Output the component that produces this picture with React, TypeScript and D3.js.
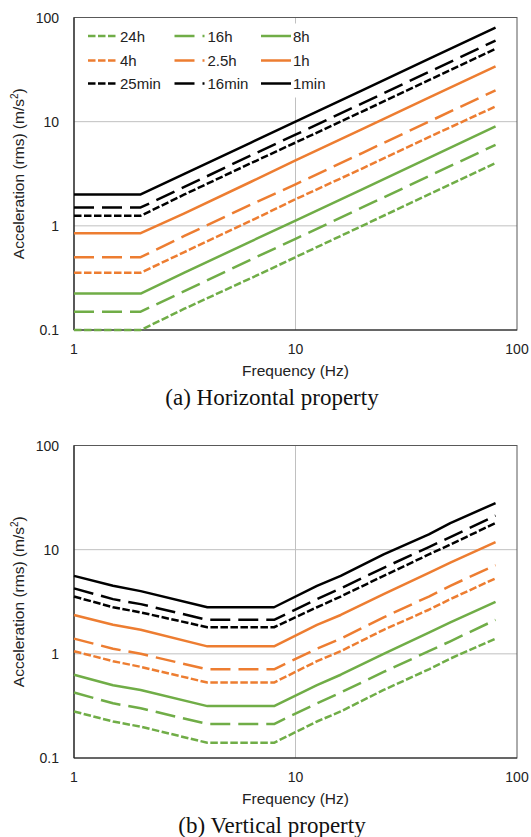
import React, { useEffect, useRef } from "react";
import * as d3 from "d3";

// series labels and styles (3 groups x 3 dash types)
const seriesNames = ["24h", "16h", "8h", "4h", "2.5h", "1h", "25min", "16min", "1min"];
const seriesColors = ["#70ad47", "#70ad47", "#70ad47", "#ed7d31", "#ed7d31", "#ed7d31", "#000000", "#000000", "#000000"];
const seriesDash = ["short", "long", "solid", "short", "long", "solid", "short", "long", "solid"];

// (a) horizontal
const hFreq = [1, 2, 3.15, 6.3, 10, 20, 40, 80];
const h24h = [0.1, 0.1, 0.16, 0.315, 0.5, 1.0, 2.0, 4.0];
const h16h = [0.15, 0.15, 0.236, 0.475, 0.75, 1.5, 3.0, 6.0];
const h8h = [0.224, 0.224, 0.355, 0.71, 1.12, 2.24, 4.5, 9.0];
const h4h = [0.355, 0.355, 0.56, 1.12, 1.8, 3.55, 7.1, 14.0];
const h2_5h = [0.5, 0.5, 0.8, 1.6, 2.5, 5.0, 10.0, 20.0];
const h1h = [0.85, 0.85, 1.32, 2.65, 4.25, 8.5, 17.0, 34.0];
const h25min = [1.25, 1.25, 2.0, 4.0, 6.3, 12.5, 25.0, 50.0];
const h16min = [1.5, 1.5, 2.36, 4.75, 7.5, 15.0, 30.0, 60.0];
const h1min = [2.0, 2.0, 3.15, 6.3, 10.0, 20.0, 40.0, 80.0];

// (b) vertical
const vFreq = [1, 1.5, 2, 4, 8, 12.5, 16, 25, 40, 50, 80];
const v24h = [0.28, 0.224, 0.2, 0.14, 0.14, 0.224, 0.28, 0.45, 0.71, 0.9, 1.4];
const v16h = [0.425, 0.335, 0.3, 0.212, 0.212, 0.335, 0.425, 0.67, 1.06, 1.32, 2.12];
const v8h = [0.63, 0.5, 0.45, 0.315, 0.315, 0.5, 0.63, 1.0, 1.6, 2.0, 3.15];
const v4h = [1.06, 0.85, 0.75, 0.53, 0.53, 0.85, 1.06, 1.7, 2.65, 3.35, 5.3];
const v2_5h = [1.4, 1.12, 1.0, 0.71, 0.71, 1.12, 1.4, 2.24, 3.55, 4.5, 7.1];
const v1h = [2.36, 1.9, 1.7, 1.18, 1.18, 1.9, 2.36, 3.75, 6.0, 7.5, 11.8];
const v25min = [3.55, 2.8, 2.5, 1.8, 1.8, 2.8, 3.55, 5.6, 9.0, 11.2, 18.0];
const v16min = [4.25, 3.35, 3.0, 2.12, 2.12, 3.35, 4.25, 6.7, 10.6, 13.2, 21.2];
const v1min = [5.6, 4.5, 4.0, 2.8, 2.8, 4.5, 5.6, 9.0, 14.0, 18.0, 28.0];

const hSeries = [h24h, h16h, h8h, h4h, h2_5h, h1h, h25min, h16min, h1min];
const vSeries = [v24h, v16h, v8h, v4h, v2_5h, v1h, v25min, v16min, v1min];

const xTicks = [1, 10, 100];
const yTicks = [0.1, 1, 10, 100];

const W = 531;
const H = 837;
const dashArray = { short: "7.5 2.5", long: "20 8", solid: null };
const font = "Liberation Sans, Arial, sans-serif";

const App = () => {
  const svgRef = useRef(null);

  useEffect(() => {
    const svg = d3.select(svgRef.current);
    svg.selectAll("*").remove();
    svg.append("rect").attr("width", W).attr("height", H).attr("fill", "#fff");

    const drawPanel = (top, freqs, series, caption, legend) => {
      const left = 74;
      const right = 517;
      const bottom = top + 312.5;
      const g = svg.append("g");

      const x = d3.scaleLog().domain([1, 100]).range([left, right]);
      const y = d3.scaleLog().domain([0.1, 100]).range([bottom, top]);

      // gridlines
      g.selectAll(".gy")
        .data([1, 10])
        .join("line")
        .attr("x1", left)
        .attr("x2", right)
        .attr("y1", (d) => y(d))
        .attr("y2", (d) => y(d))
        .attr("stroke", "#c0c0c0")
        .attr("stroke-width", 1);
      g.append("line")
        .attr("x1", x(10))
        .attr("x2", x(10))
        .attr("y1", top)
        .attr("y2", bottom)
        .attr("stroke", "#c0c0c0")
        .attr("stroke-width", 1);

      // legend background hides the grid
      if (legend) {
        g.append("rect").attr("x", 80).attr("y", top + 6).attr("width", 255).attr("height", 74).attr("fill", "#fff");
      }

      // frame
      g.append("rect")
        .attr("x", left)
        .attr("y", top)
        .attr("width", right - left)
        .attr("height", bottom - top)
        .attr("fill", "none")
        .attr("stroke", "#595959")
        .attr("stroke-width", 1);
      g.append("line").attr("x1", left).attr("x2", left).attr("y1", top).attr("y2", bottom).attr("stroke", "#222").attr("stroke-width", 1.2);
      g.append("line").attr("x1", left).attr("x2", right).attr("y1", bottom).attr("y2", bottom).attr("stroke", "#222").attr("stroke-width", 1.2);

      // lines
      const line = d3
        .line()
        .x((d) => x(d[0]))
        .y((d) => y(d[1]));
      series.forEach((vals, i) => {
        g.append("path")
          .datum(freqs.map((f, j) => [f, vals[j]]))
          .attr("d", line)
          .attr("fill", "none")
          .attr("stroke", seriesColors[i])
          .attr("stroke-width", 2.5)
          .attr("stroke-dasharray", dashArray[seriesDash[i]])
          .attr("stroke-linejoin", "round");
      });

      // tick labels
      g.selectAll(".xt")
        .data(xTicks)
        .join("text")
        .attr("x", (d) => x(d))
        .attr("y", bottom + 24)
        .attr("text-anchor", "middle")
        .attr("font-family", font)
        .attr("font-size", 14)
        .attr("fill", "#222")
        .text((d) => d);
      g.selectAll(".yt")
        .data(yTicks)
        .join("text")
        .attr("x", 59)
        .attr("y", (d) => y(d) + 5)
        .attr("text-anchor", "end")
        .attr("font-family", font)
        .attr("font-size", 14)
        .attr("fill", "#222")
        .text((d) => d);

      // axis titles
      g.append("text")
        .attr("x", (left + right) / 2)
        .attr("y", bottom + 46)
        .attr("text-anchor", "middle")
        .attr("font-family", font)
        .attr("font-size", 15.5)
        .attr("fill", "#222")
        .text("Frequency (Hz)");
      const yt = g
        .append("text")
        .attr("transform", `translate(24,${(top + bottom) / 2}) rotate(-90)`)
        .attr("text-anchor", "middle")
        .attr("font-family", font)
        .attr("font-size", 15.5)
        .attr("fill", "#222");
      yt.append("tspan").text("Acceleration (rms) (m/s");
      yt.append("tspan").attr("font-size", 10).attr("dy", -6).text("2");
      yt.append("tspan").attr("dy", 6).text(")");

      // caption
      g.append("text")
        .attr("x", 272)
        .attr("y", bottom + 75)
        .attr("text-anchor", "middle")
        .attr("font-family", "Liberation Serif, Times New Roman, serif")
        .attr("font-size", 23)
        .attr("fill", "#111")
        .text(caption);

      // legend 3x3
      if (legend) {
        const colX = [88, 174.5, 261];
        const rowY = [36, 60.5, 83.5].map((v) => v - 17.5 + top);
        seriesNames.forEach((name, i) => {
          const cx = colX[i % 3];
          const cy = rowY[Math.floor(i / 3)];
          g.append("line")
            .attr("x1", cx)
            .attr("x2", cx + 30)
            .attr("y1", cy)
            .attr("y2", cy)
            .attr("stroke", seriesColors[i])
            .attr("stroke-width", 2.5)
            .attr("stroke-dasharray", dashArray[seriesDash[i]]);
          g.append("text")
            .attr("x", i % 3 === 1 ? cx + 33 : cx + 32)
            .attr("y", cy + 5.5)
            .attr("font-family", font)
            .attr("font-size", 15)
            .attr("fill", "#222")
            .text(name);
        });
      }
    };

    drawPanel(17.5, hFreq, hSeries, "(a) Horizontal property", true);
    drawPanel(445.5, vFreq, vSeries, "(b) Vertical property", false);
  }, []);

  return (
    <div>
      <svg ref={svgRef} width={W} height={H} style={{ position: "absolute", left: 0, top: 0 }}></svg>
    </div>
  );
};

export default App;
